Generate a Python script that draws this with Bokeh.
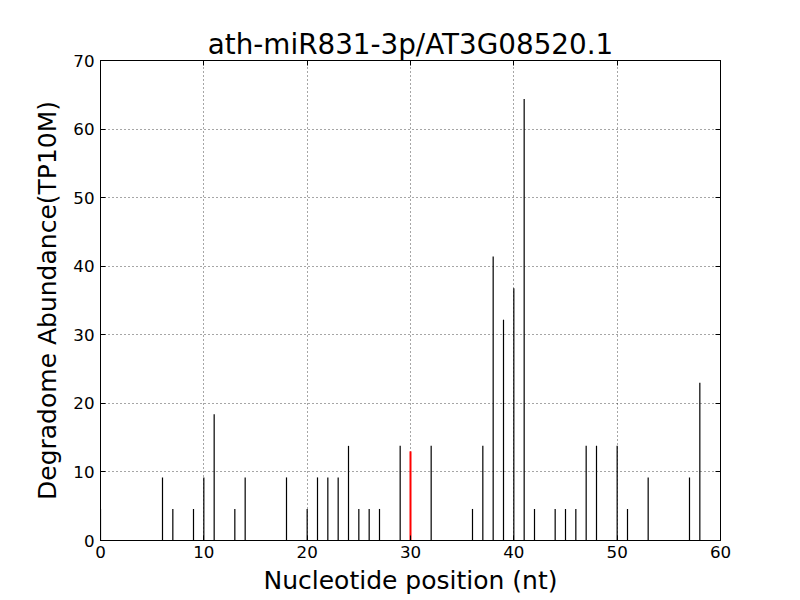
from bokeh.plotting import figure
from bokeh.models import LinearAxis, FixedTicker, ColumnDataSource, Range1d
from bokeh.embed import file_html
from bokeh.resources import INLINE

title = "ath-miR831-3p/AT3G08520.1"
positions = [0, 6, 7, 9, 10, 11, 13, 14, 18, 20, 21, 22, 23, 24, 25, 26, 27, 29,
             32, 36, 37, 38, 39, 40, 41, 42, 44, 45, 46, 47, 48, 50, 51, 53, 57, 58]
abundance = [4.6, 9.2, 4.6, 4.6, 9.2, 18.4, 4.6, 9.2, 9.2, 4.6, 9.2, 9.2, 9.2, 13.8,
             4.6, 4.6, 4.6, 13.8, 13.8, 4.6, 13.8, 41.4, 32.2, 36.8, 64.4, 4.6,
             4.6, 4.6, 4.6, 13.8, 13.8, 13.8, 4.6, 9.2, 9.2, 23.0]
site_pos = [30]
site_val = [13.0]
xticks = [0, 10, 20, 30, 40, 50, 60]
yticks = [0, 10, 20, 30, 40, 50, 60, 70]

FONT = "DejaVu Sans"

p = figure(width=792, height=600, output_backend="svg", toolbar_location=None,
           x_range=Range1d(0, 60), y_range=Range1d(0, 70),
           frame_width=620, frame_height=480,
           min_border_left=100, min_border_right=72, min_border_top=60, min_border_bottom=60,
           title=title)
p.title.align = "center"
p.title.text_font = FONT
p.title.text_font_size = "27.8px"
p.title.text_font_style = "normal"
p.title.text_color = "black"
p.title.standoff = 0
p.title.offset = 0

p.background_fill_color = "white"
p.border_fill_color = "white"
p.outline_line_color = "black"
p.outline_line_width = 1

src = ColumnDataSource(dict(x=positions, y=abundance, y0=[0] * len(positions)))
p.segment(x0="x", y0="y0", x1="x", y1="y", source=src, line_color="black", line_width=1.2)
src2 = ColumnDataSource(dict(x=site_pos, y=site_val, y0=[0] * len(site_pos)))
p.segment(x0="x", y0="y0", x1="x", y1="y", source=src2, line_color="red", line_width=2)

def style_axis(ax, labels=True):
    ax.major_tick_in = 5
    ax.major_tick_out = 0
    ax.minor_tick_in = 0
    ax.minor_tick_out = 0
    ax.axis_line_color = "black"
    ax.major_tick_line_color = "black"
    ax.major_label_text_font = FONT
    ax.major_label_text_font_size = "16.7px"
    ax.major_label_text_color = "black" if labels else None
    ax.axis_label_text_font = FONT
    ax.axis_label_text_font_size = "25px"
    ax.axis_label_text_font_style = "normal"
    ax.axis_label_text_color = "black"

p.xaxis.ticker = FixedTicker(ticks=xticks)
p.yaxis.ticker = FixedTicker(ticks=yticks)
p.xaxis.axis_label = "Nucleotide position (nt)"
p.yaxis.axis_label = "Degradome Abundance(TP10M)"
style_axis(p.xaxis[0])
style_axis(p.yaxis[0])
p.xaxis.major_label_standoff = 5
p.yaxis.major_label_standoff = 6
p.xaxis.axis_label_standoff = 5
p.yaxis.axis_label_standoff = 8

top = LinearAxis(ticker=FixedTicker(ticks=xticks))
style_axis(top, labels=False)
top.major_label_standoff = 0
top.major_label_text_font_size = "1px"
p.add_layout(top, "above")
right = LinearAxis(ticker=FixedTicker(ticks=yticks))
style_axis(right, labels=False)
right.major_label_standoff = 0
right.major_label_text_font_size = "1px"
p.add_layout(right, "right")

for g, t in ((p.xgrid[0], xticks), (p.ygrid[0], yticks)):
    g.grid_line_color = "black"
    g.grid_line_dash = "1 3"
    g.grid_line_width = 0.7
    g.ticker = FixedTicker(ticks=t)

open("out.html", "w").write(file_html(p, INLINE))
